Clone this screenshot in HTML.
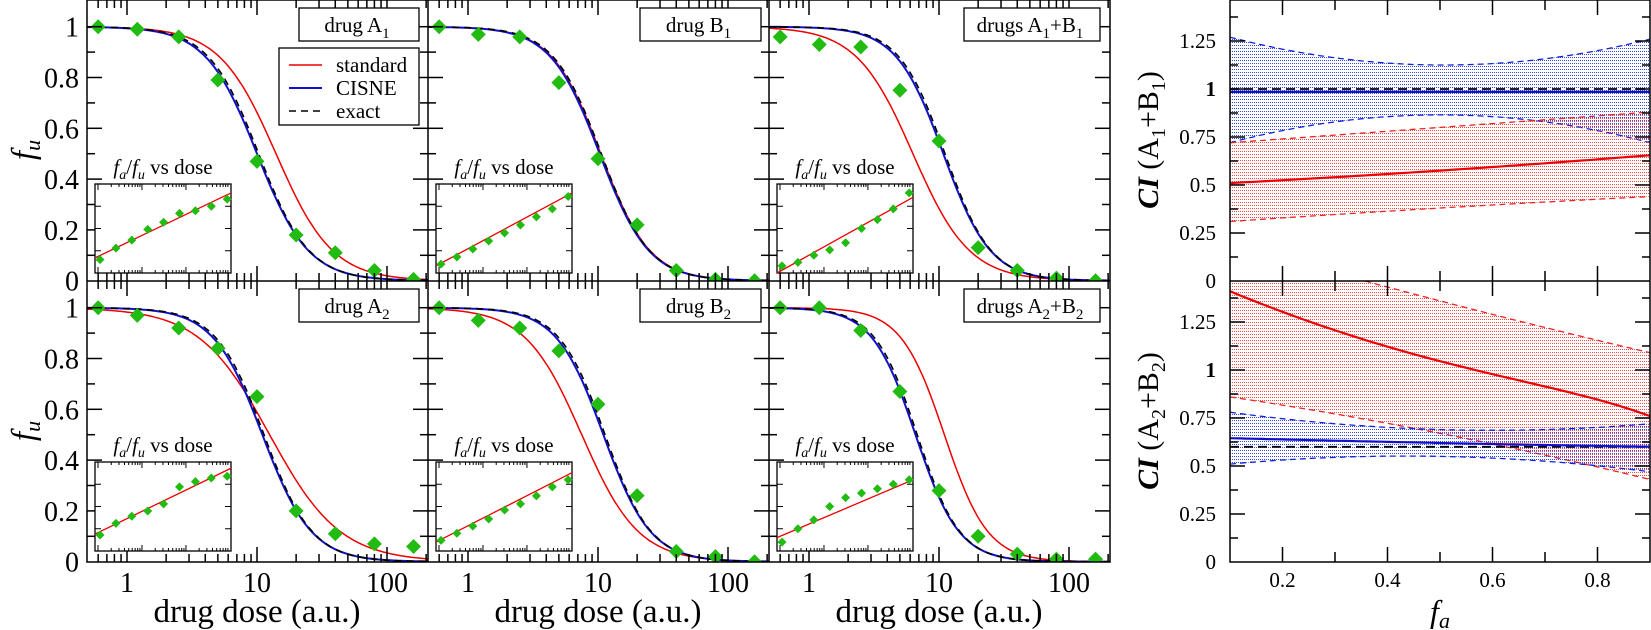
<!DOCTYPE html>
<html><head><meta charset="utf-8"><style>
html,body{margin:0;padding:0;background:#fff;}
svg{display:block;font-family:"Liberation Serif",serif;}
</style></head><body>
<svg id="s" width="1651" height="630" viewBox="0 0 1651 630" xmlns="http://www.w3.org/2000/svg">
<defs>
<pattern id="pb" width="2" height="3" patternUnits="userSpaceOnUse"><rect x="0" y="0" width="1" height="1" fill="#2233dd"/></pattern>
<pattern id="pr" width="2" height="3" patternUnits="userSpaceOnUse"><rect x="0" y="1" width="1" height="1" fill="#ee3333"/></pattern>
</defs>
<g id="g"></g>
</svg>
<script>
var out=[];
function P(s){out.push(s);}
function line(x1,y1,x2,y2,c,w,extra){P('<line x1="'+x1+'" y1="'+y1+'" x2="'+x2+'" y2="'+y2+'" stroke="'+(c||'#000')+'" stroke-width="'+(w||1.5)+'" '+(extra||'')+'/>');}
function path(d,c,w,extra){P('<path d="'+d+'" fill="none" stroke="'+c+'" stroke-width="'+w+'" '+(extra||'')+'/>');}
function text(x,y,t,sz,anchor,extra){P('<text x="'+x+'" y="'+y+'" font-size="'+sz+'" text-anchor="'+(anchor||'middle')+'" '+(extra||'')+'>'+t+'</text>');}
function diamond(x,y,r){P('<polygon points="'+x+','+(y-r)+' '+(x+r)+','+y+' '+x+','+(y+r)+' '+(x-r)+','+y+'" fill="#22bb11"/>');}
var lg=Math.log10;
var panels=[
 [{b:[10,2.2],r:[14,2.0],d:[1,.99,.96,.79,.47,.18,.11,.04,.005],lab:'drug A<tspan font-size="15" dy="6">1</tspan>',bx:[299,419],ins:[.17,.9],id:[.15,.28,.37,.49,.57,.67,.70,.75,.83]},
  {b:[10.3,2.3],r:[10.5,2.3],d:[1,.97,.96,.78,.48,.22,.04,.005,0],lab:'drug B<tspan font-size="15" dy="6">1</tspan>',bx:[640,761],ins:[.08,.9],id:[.1,.18,.27,.36,.45,.54,.63,.72,.86]},
  {b:[10.8,2.4],r:[6.3,2.0],d:[.96,.93,.92,.75,.55,.13,.04,.01,0],lab:'drugs A<tspan font-size="15" dy="6">1</tspan><tspan dy="-6">+B</tspan><tspan font-size="15" dy="6">1</tspan>',bx:[964,1100],ins:[0,.85],id:[.08,.12,.2,.26,.34,.5,.6,.72,.9]}],
 [{b:[11,2.3],r:[12.5,1.6],d:[1,.97,.92,.84,.65,.2,.11,.07,.06],lab:'drug A<tspan font-size="15" dy="6">2</tspan>',bx:[299,419],ins:[.19,.93],id:[.18,.31,.39,.45,.53,.72,.78,.82,.84]},
  {b:[11,2.4],r:[7.5,2.0],d:[1,.95,.92,.83,.62,.26,.04,.02,0],lab:'drug B<tspan font-size="15" dy="6">2</tspan>',bx:[640,761],ins:[.1,.88],id:[.12,.2,.28,.36,.46,.53,.62,.72,.8]},
  {b:[6.6,2.6],r:[11,2.6],d:[1,1,.91,.67,.28,.1,.03,.01,.01],lab:'drugs A<tspan font-size="15" dy="6">2</tspan><tspan dy="-6">+B</tspan><tspan font-size="15" dy="6">2</tspan>',bx:[964,1100],ins:[.15,.8],id:[.1,.25,.35,.5,.6,.65,.7,.75,.8]}]
];
P('<clipPath id="cl0"><rect x="87" y="0" width="1023" height="281"/></clipPath><clipPath id="cl1"><rect x="87" y="281" width="1023" height="281"/></clipPath>');
for(var r=0;r<2;r++)for(var c=0;c<3;c++){
 var pn=panels[r][c],L=87+341*c,T=281*r;
 var fx=function(D){return L+40+130*lg(D);}, fy=function(v){return T+280.7-v*254;};
 function curve(dm,m){var s='';for(var i=0;i<=200;i++){var x=L+i*341/200;var D=Math.pow(10,(x-L-40)/130);var v=1/(1+Math.pow(D/dm,m));s+=(i?'L':'M')+x.toFixed(1)+','+fy(v).toFixed(1);}return s;}
 var cp='clip-path="url(#cl'+r+')"';
 P('<g '+cp+'>');
 path(curve(pn.r[0],pn.r[1]),'#e00',1.5);
 path(curve(pn.b[0],pn.b[1]),'#1111cc',2);
 path(curve(pn.b[0]*1.03,pn.b[1]*1.02),'#000',1.6,'stroke-dasharray="7,5"');
 var ds=[0.6,1.2,2.5,5,10,20,40,80,160];
 for(var i=0;i<9;i++)diamond(fx(ds[i]),fy(pn.d[i]),7.5);
 P('</g>');
 for(var k=1;k<=10;k++){var v=k/10,y=fy(v),len=(k%2==0)?15:8;line(L,y,L+len,y);line(L+341-len,y,L+341,y);}
 for(var e=-1;e<=2;e++)for(var m=1;m<10;m++){var D=m*Math.pow(10,e);var x=fx(D);if(x<L+1||x>L+340)continue;var len=(m==1)?15:8;line(x,T,x,T+len);line(x,T+281-len,x,T+281);}
 P('<rect x="'+pn.bx[0]+'" y="'+(T+8)+'" width="'+(pn.bx[1]-pn.bx[0])+'" height="33" fill="#fff" stroke="#000" stroke-width="1.3"/>');
 text((pn.bx[0]+pn.bx[1])/2-2,T+32,pn.lab,21);
 var ix=L+8,iy=T+184-(r?3:0),iw=136,ih=89;
 P('<rect x="'+ix+'" y="'+iy+'" width="'+iw+'" height="'+ih+'" fill="#fff" stroke="#000" stroke-width="1.3"/>');
 for(var e=0;e<3;e++)for(var m=1;m<10;m++){var x=ix+iw*(e+lg(m))/3.0*0.97+3;if(x>ix+iw-1)continue;var len=m==1?6:3;line(x,iy,x,iy+len,'#000',1);line(x,iy+ih-len,x,iy+ih,'#000',1);}
 for(var k=1;k<4;k++){var y=iy+ih*k/4;line(ix,y,ix+6,y,'#000',1);line(ix+iw-6,y,ix+iw,y,'#000',1);}
 line(ix,iy+ih*(1-pn.ins[0]),ix+iw,iy+ih*(1-pn.ins[1]),'#e00',1.3);
 for(var i=0;i<9;i++)diamond(ix+5+i*15.9,iy+ih*(1-pn.id[i]),4.5);
 text(ix+68,iy-10,'<tspan font-style="italic">f</tspan><tspan font-style="italic" font-size="14" dy="5">a</tspan><tspan dy="-5">/</tspan><tspan font-style="italic">f</tspan><tspan font-style="italic" font-size="14" dy="5">u</tspan><tspan dy="-5"> vs dose</tspan>',21);
}
P('<rect x="279" y="48" width="140" height="77" fill="#fff" stroke="#000" stroke-width="1.3"/>');
line(289,65,322,65,'#e00',1.5);line(289,88,322,88,'#1111cc',2);line(289,111,322,111,'#000',1.6,'stroke-dasharray="7,5"');
text(336,72,'standard',21,'start');text(336,95,'CISNE',21,'start');text(336,118,'exact',21,'start');
P('<rect x="87" y="0" width="1023" height="562" fill="none" stroke="#000" stroke-width="1.5"/>');
line(87,281,1110,281);line(428,0,428,562);line(769,0,769,562);
var yl=['0','0.2','0.4','0.6','0.8','1'];
for(var r=0;r<2;r++){for(var i=0;i<6;i++)text(79,281*r+280.7-i*50.8+10,yl[i],28,'end');
 text(0,0,'<tspan font-style="italic">f</tspan><tspan font-style="italic" font-size="22" dy="6">u</tspan>',33,'middle','transform="translate(34,'+(281*r+150)+') rotate(-90)"');}
for(var c=0;c<3;c++){var L=87+341*c;text(L+40,592,'1',28);text(L+170,592,'10',28);text(L+300,592,'100',28);text(L+170,622,'drug dose (a.u.)',33);}
var RX=1230,RW=420;
function gx(f){return RX+(f-0.1)*525;}
function band(T,up,lo,pat,col){
 var fy=function(v){return T+281-v*192;};
 var su='',sl='';
 for(var i=0;i<=80;i++){var f=0.1+0.8*i/80;su+=(i?'L':'M')+gx(f).toFixed(1)+','+fy(up(f)).toFixed(1);}
 for(var i=80;i>=0;i--){var f=0.1+0.8*i/80;sl+='L'+gx(f).toFixed(1)+','+fy(lo(f)).toFixed(1);}
 P('<path d="'+su+sl+'Z" fill="url(#'+pat+')" opacity="0.9"/>');
 var s2='';for(var i=0;i<=80;i++){var f=0.1+0.8*i/80;s2+=(i?'L':'M')+gx(f).toFixed(1)+','+fy(lo(f)).toFixed(1);}
 path(su,col,1.3,'stroke-dasharray="6,4"');path(s2,col,1.3,'stroke-dasharray="6,4"');
}
function cur(T,fn,col,w,extra){var fy=function(v){return T+281-v*192;};var s='';for(var i=0;i<=80;i++){var f=0.1+0.8*i/80;s+=(i?'L':'M')+gx(f).toFixed(1)+','+fy(fn(f)).toFixed(1);}path(s,col,w,extra);}
function q(a,b,c){return function(f){var t=(f-0.1)/0.8;return a*(1-t)*(1-t)+2*b*t*(1-t)+c*t*t;};}
function mid(a,m,b){return q(a,2*m-(a+b)/2,b);}
P('<clipPath id="cr0"><rect x="1230" y="0" width="420" height="281"/></clipPath><clipPath id="cr1"><rect x="1230" y="281" width="420" height="281"/></clipPath>');
P('<g clip-path="url(#cr0)">');
band(0,mid(1.27,1.125,1.26),mid(0.72,0.865,0.72),'pb','#1122dd');
band(0,mid(0.72,0.80,0.88),mid(0.31,0.38,0.44),'pr','#ee2222');
cur(0,function(f){return 1.0},'#000',1.8,'stroke-dasharray="9,5"');
cur(0,function(f){return 0.985},'#1111cc',2.2);
cur(0,mid(0.51,0.575,0.655),'#e00',2.2);
P('</g><g clip-path="url(#cr1)">');
band(281,mid(1.66,1.36,1.09),mid(0.86,0.67,0.43),'pr','#ee2222');
band(281,mid(0.78,0.69,0.72),mid(0.51,0.55,0.47),'pb','#1122dd');
cur(281,function(f){return 0.6},'#000',1.8,'stroke-dasharray="9,5"');
cur(281,mid(0.645,0.62,0.6),'#1111cc',2.2);
cur(281,function(f){var t=(f-0.1)/0.8;return 1.41-0.9*t+0.35*t*t-0.1*Math.pow(t,6);},'#e00',2.2);
P('</g>');
P('<rect x="1230" y="0" width="420" height="562" fill="none" stroke="#000" stroke-width="1.5"/>');
line(1230,281,1650,281);
for(var r=0;r<2;r++){var T=281*r;
 for(var k=1;k<=11;k++){var y=T+281-k*0.125*192;if(y<T+1)continue;var len=(k%2==0)?15:8;line(RX,y,RX+len,y);line(RX+RW-len,y,RX+RW,y);}
 for(var k=2;k<=8;k++){var x=gx(k/10),len=(k%2==0)?15:10;line(x,T,x,T+len);line(x,T+281-len,x,T+281);}
 var lb=['0','0.25','0.5','0.75','1','1.25'];
 for(var i=0;i<6;i++)text(1216,T+281-i*48+7,lb[i],21,'end',i==4?'font-weight="bold"':'');
 var sub=r?'2':'1';
 text(0,0,'<tspan font-style="italic" font-weight="bold">CI</tspan><tspan> (A</tspan><tspan font-size="20" dy="7">'+sub+'</tspan><tspan dy="-7">+B</tspan><tspan font-size="20" dy="7">'+sub+'</tspan><tspan dy="-7">)</tspan>',30,'middle','transform="translate(1158,'+(T+140)+') rotate(-90)"');
}
var xl=['0.2','0.4','0.6','0.8'];for(var i=0;i<4;i++)text(gx(0.2+0.2*i),587,xl[i],21);
text(1440,622,'<tspan font-style="italic">f</tspan><tspan font-style="italic" font-size="22" dy="6">a</tspan>',32);
document.getElementById('g').innerHTML=out.join('');
</script>
</body></html>
